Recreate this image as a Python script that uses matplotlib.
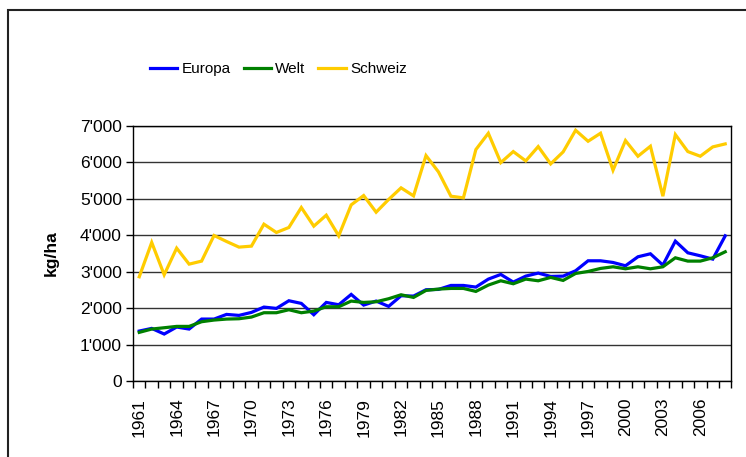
import matplotlib
matplotlib.use("Agg")
import matplotlib.pyplot as plt
import matplotlib.ticker as mtick
from matplotlib.patches import Rectangle

plt.rcParams['font.family'] = ['Liberation Sans', 'DejaVu Sans']

years = list(range(1961, 2009))

europa = [1371, 1444, 1289, 1481, 1426, 1700, 1700, 1828, 1801, 1883,
          2029, 1993, 2203, 2130, 1819, 2157, 2093, 2377, 2084, 2194,
          2048, 2340, 2331, 2505, 2514, 2623, 2623, 2578, 2797, 2925,
          2715, 2879, 2962, 2870, 2879, 3026, 3300, 3300, 3254, 3163,
          3410, 3492, 3181, 3839, 3519, 3437, 3346, 3985]

welt = [1335, 1426, 1462, 1499, 1499, 1627, 1673, 1700, 1709, 1755,
        1874, 1874, 1956, 1874, 1920, 2038, 2038, 2194, 2157, 2175,
        2258, 2367, 2294, 2486, 2523, 2541, 2541, 2459, 2633, 2751,
        2669, 2797, 2751, 2843, 2761, 2952, 3007, 3090, 3135, 3080,
        3135, 3080, 3135, 3382, 3291, 3291, 3382, 3547]

schweiz = [2861, 3803, 2916, 3647, 3208, 3291, 3995, 3830, 3675, 3702,
           4305, 4077, 4214, 4762, 4250, 4552, 3985, 4835, 5091, 4634,
           4982, 5302, 5082, 6188, 5740, 5073, 5027, 6353, 6801, 5996,
           6298, 6042, 6435, 5960, 6289, 6883, 6581, 6801, 5786, 6600,
           6170, 6444, 5073, 6764, 6298, 6170, 6426, 6508]

series = [("Europa", europa, "#0000ff"),
          ("Welt", welt, "#008000"),
          ("Schweiz", schweiz, "#ffcc00")]

fig = plt.figure(figsize=(7.46, 4.57), dpi=100)
ax = fig.add_axes([0.1783, 0.1663, 0.8022, 0.558])

pos = list(range(len(years)))
for i, (name, vals, col) in enumerate(series):
    ax.plot(pos, vals, color=col, lw=2.3, label=name, zorder=3 + i,
            solid_joinstyle='miter')

ax.set_xlim(-0.5, len(years) - 0.5)
ax.set_ylim(0, 7000)
ax.set_yticks(range(0, 7001, 1000))
ax.yaxis.set_major_formatter(
    mtick.FuncFormatter(lambda v, p: '{:,}'.format(int(v)).replace(',', "'")))
ax.grid(axis='y', color='#333333', lw=1)
ax.set_axisbelow(True)

# category labels every third year, tick marks between categories
ax.set_xticks(pos[::3])
ax.set_xticklabels([str(y) for y in years[::3]], rotation=90)
ax.set_xticks([p - 0.5 for p in pos] + [pos[-1] + 0.5], minor=True)
ax.tick_params(axis='x', which='major', length=0, pad=12, labelsize=12.5)
ax.tick_params(axis='x', which='minor', length=5, width=1, direction='out')
ax.tick_params(axis='y', length=5, width=1, direction='out', labelsize=12.5, pad=3)

for s in ax.spines.values():
    s.set_color('black')
    s.set_linewidth(1)

ax.set_ylabel('kg/ha', fontsize=12.5, fontweight='bold', labelpad=15)

fig.legend(loc='center', bbox_to_anchor=(0.373, 0.849), ncol=3, frameon=False,
           fontsize=11, handlelength=1.8, handletextpad=0.27,
           columnspacing=0.85)

# outer chart-area border (cut off at right and bottom)
fig.patches.append(Rectangle((8 / 746, -0.1), 1.2, 1 - 10 / 457 + 0.1,
                             transform=fig.transFigure, fill=False,
                             edgecolor='#222222', lw=1.5))

fig.savefig('out.png', dpi=100)
